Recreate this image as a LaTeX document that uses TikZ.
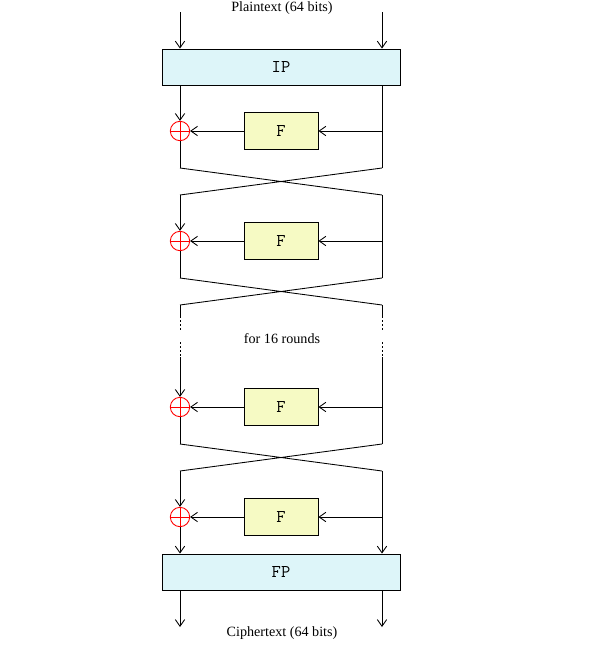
\documentclass[tikz,border=0pt]{standalone}
\usepackage{fontspec}
\setmainfont{Liberation Serif}
\usetikzlibrary{arrows.meta}
\definecolor{permfill}{HTML}{DDF5F9}
\definecolor{roundfill}{HTML}{F6FAC4}

\begin{document}
\begin{tikzpicture}[x=0.75pt,y=-0.75pt,line width=0.65pt,
	>={Straight Barb[length=5pt,width=7pt]},
	every node/.style={font=\fontsize{10.6}{12}\selectfont},
	perm node/.style={draw, fill=permfill, minimum width=178.5pt, minimum height=27pt, font=\ttfamily\fontsize{13.5}{15}\selectfont},
	f node/.style={draw, fill=roundfill, minimum width=55.5pt, minimum height=27.75pt, font=\ttfamily\fontsize{13.5}{15}\selectfont},
	xor node/.style={circle, draw=red, minimum size=14.5pt, inner sep=0pt,
		path picture={\draw[red] (path picture bounding box.north) -- (path picture bounding box.south)
			(path picture bounding box.west) -- (path picture bounding box.east);}}]
	\useasboundingbox (0,0) rectangle (599,646);
	
	\node (plain) at (282,8.5) {Plaintext (64 bits)};
	\node[perm node] (ip) at (281,67) {IP};
	\node[perm node] (fp) at (281,572) {FP};
	\node (cipher) at (282,633) {Ciphertext (64 bits)};
	\node (rounds) at (282,339) {for 16 rounds};
	
	\coordinate (in1) at (180,12);
	\coordinate (in2) at (382,12);
	\coordinate (out1) at (180,627);
	\coordinate (out2) at (382,627);
	
	% the four rounds
	\foreach \i/\y in {1/131,2/241,3/407,4/517} {
		\node[xor node] (x\i) at (180,\y) {};
		\node[f node] (f\i) at (281,\y) {F};
		\coordinate (b\i) at (382,\y);
		\draw[->] (b\i) -- (f\i);
		\draw[->] (f\i) -- (x\i);
	}
	
	% crossings after rounds 1 to 3
	\foreach \i/\y in {1/168,2/278,3/444} {
		\coordinate (l\i a) at (180,\y);
		\coordinate (r\i a) at (382,\y);
		\coordinate (l\i b) at (180,\y+27);
		\coordinate (r\i b) at (382,\y+27);
		\draw (l\i a) -- (r\i b) (r\i a) -- (l\i b);
		\draw (x\i) -- (l\i a);
	}
	
	\draw[->] (in1) -- (in1 |- ip.north);
	\draw[->] (in2) -- (in2 |- ip.north);
	
	\draw[->] (ip.south -| x1) -- (x1);
	\draw (ip.south -| b1) -- (r1a);
	
	\draw[->] (l1b) -- (x2);
	\draw (r1b) -- (r2a);
	
	% dotted gap
	\coordinate (l2c) at (180,316);
	\coordinate (l2d) at (180,332);
	\coordinate (l2e) at (180,342);
	\coordinate (l2f) at (180,357);
	\coordinate (r2c) at (382,316);
	\coordinate (r2d) at (382,332);
	\coordinate (r2e) at (382,342);
	\coordinate (r2f) at (382,357);
	\draw (l2b) -- (l2c) (r2b) -- (r2c);
	\draw[dash pattern=on 1.5pt off 1.5pt] (l2c) -- (l2d) (l2e) -- (l2f) (r2c) -- (r2d) (r2e) -- (r2f);
	\draw[->] (l2f) -- (x3);
	\draw (r2f) -- (r3a);
	
	\draw[->] (l3b) -- (x4);
	\draw[->] (x4) -- (x4 |- fp.north);
	\draw[->] (r3b) -- (r3b |- fp.north);
	
	\draw[->] (fp.south -| out1) -- (out1);
	\draw[->] (fp.south -| out2) -- (out2);
\end{tikzpicture}
\end{document}
